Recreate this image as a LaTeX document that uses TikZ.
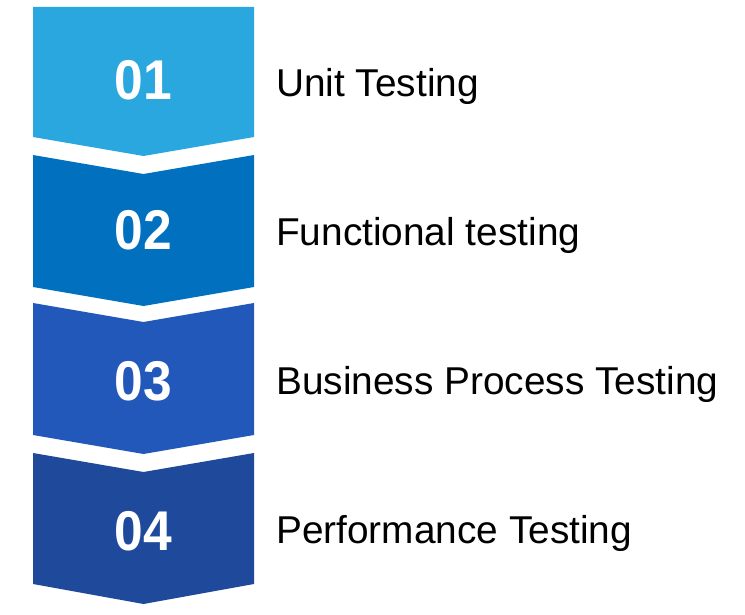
\documentclass[tikz,border=0pt]{standalone}
\usepackage{fontspec}
\setmainfont{Liberation Sans}
\newfontfamily\numfont[FakeStretch=0.92]{Liberation Sans}
\definecolor{c1}{HTML}{2AA7DF}
\definecolor{c2}{HTML}{0070BF}
\definecolor{c3}{HTML}{2258B9}
\definecolor{c4}{HTML}{1F4A9C}
\tikzset{
  num/.style={anchor=base, text=white, font=\numfont\fontsize{56}{60}\selectfont\bfseries, inner sep=0pt},
  lbl/.style={anchor=base west, text=black, font=\fontsize{38.8}{44}\selectfont, inner sep=0pt}
}
\begin{document}
\begin{tikzpicture}[x=1pt,y=-1pt]
\useasboundingbox (0,0) rectangle (745,615);
% chevrons
\fill[c1] (33,7) -- (254,7) -- (254,137) -- (143.5,156) -- (33,137) -- cycle;
\fill[c2] (33,155) -- (143.5,174) -- (254,155) -- (254,287) -- (143.5,306) -- (33,287) -- cycle;
\fill[c3] (33,303) -- (143.5,322) -- (254,303) -- (254,435) -- (143.5,454) -- (33,435) -- cycle;
\fill[c4] (33,453) -- (143.5,472) -- (254,453) -- (254,584) -- (143.5,604) -- (33,584) -- cycle;
% numbers
\node[num] (n1) at (143.5,100) {01};
\node[num] (n2) at (143.5,250) {02};
\node[num] (n3) at (143.5,400) {03};
\node[num] (n4) at (143.5,550) {04};
% labels
\node[lbl] (l1) at (276,97) {Unit Testing};
\node[lbl] (l2) at (276,246) {Functional testing};
\node[lbl] (l3) at (276,394) {Business Process Testing};
\node[lbl] (l4) at (276,543) {Performance Testing};
\end{tikzpicture}
\end{document}
